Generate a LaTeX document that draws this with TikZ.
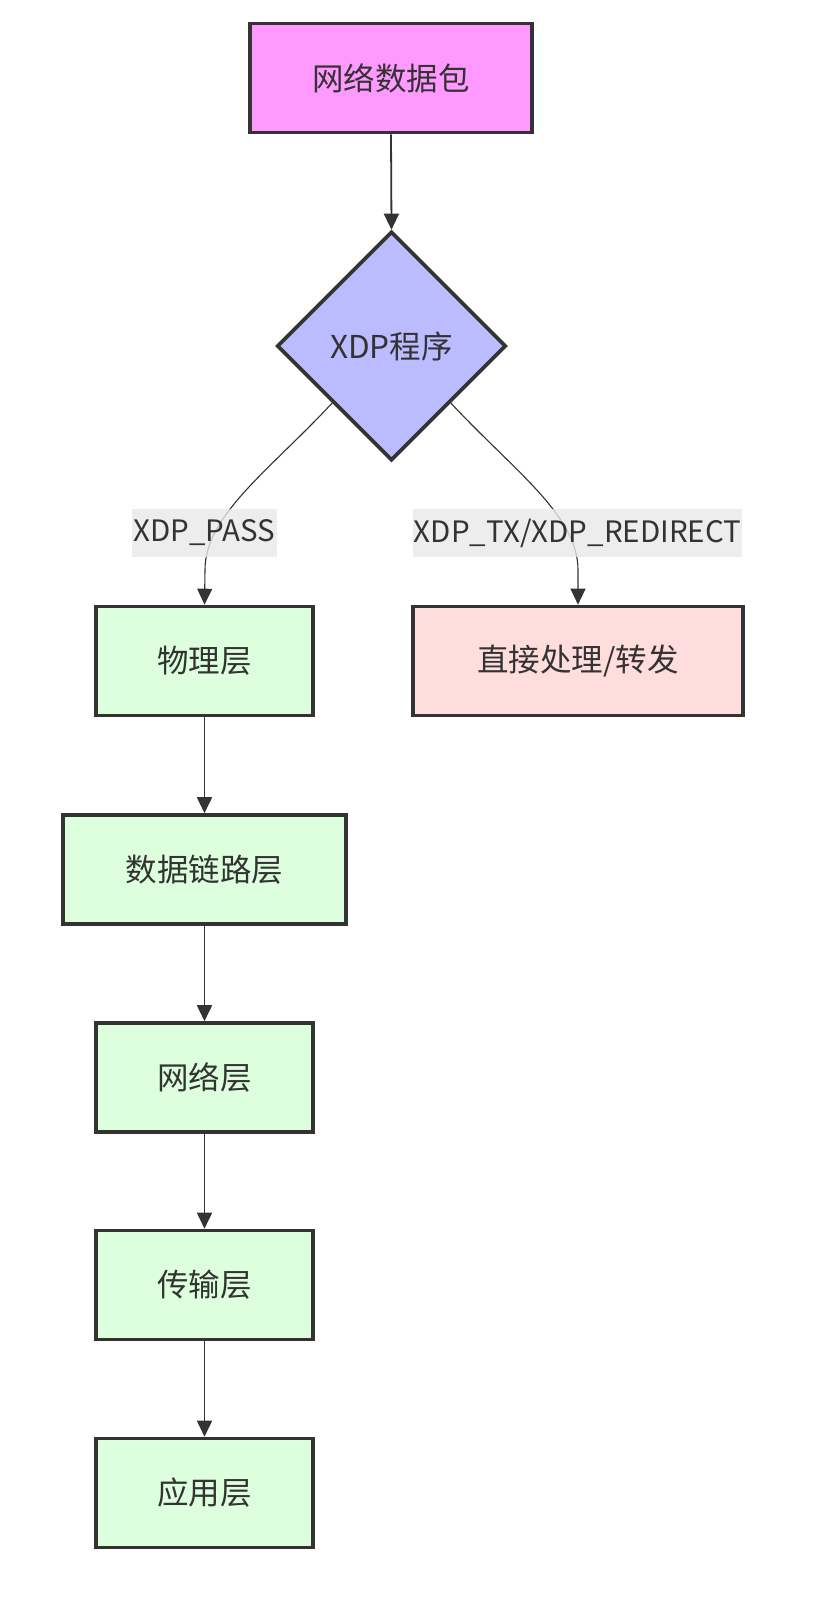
\documentclass[tikz,border=0pt]{standalone}
\usepackage{fontspec}
\setmainfont{Noto Sans CJK SC}
\usetikzlibrary{shapes.geometric,arrows.meta,calc}
\definecolor{strokec}{HTML}{333333}
\definecolor{pinkc}{HTML}{FF99FF}
\definecolor{bluec}{HTML}{BBBBFF}
\definecolor{greenc}{HTML}{DDFFDD}
\definecolor{redc}{HTML}{FFDDDD}
\definecolor{labelc}{HTML}{E8E8E8}
\tikzset{
  box/.style={draw=strokec, line width=3.6pt, rectangle, minimum height=109pt, inner sep=0pt, text=strokec, font=\fontsize{31.5}{38}\selectfont},
  dia/.style={draw=strokec, line width=3.6pt, diamond, aspect=1, minimum width=229pt, minimum height=229pt, inner sep=0pt, fill=bluec, text=strokec, font=\fontsize{31.5}{38}\selectfont},
  edge/.style={draw=strokec, line width=1.8pt, -{Triangle[length=16pt,width=15pt]}},
  thinedge/.style={draw=strokec, line width=1.1pt, -{Triangle[length=16pt,width=15pt]}},
  elabel/.style={fill=labelc, fill opacity=0.8, text opacity=1, text=strokec, inner xsep=1pt, inner ysep=0pt, minimum height=48pt, font=\fontsize{29.5}{35}\selectfont},
}
\begin{document}
\begin{tikzpicture}[x=1pt,y=-1pt]
\useasboundingbox (0,0) rectangle (836,1618);
\node[box, fill=pinkc, minimum width=282pt] (pkt) at (391,78) {网络数据包};
\node[dia] (xdp) at (391.5,346) {XDP程序};
\node[box, fill=greenc, minimum width=217pt] (phy) at (204.5,661) {物理层};
\node[box, fill=redc, minimum width=330pt] (tx) at (578,661) {直接处理/转发};
\node[box, fill=greenc, minimum width=283pt] (dl) at (204.5,869.5) {数据链路层};
\node[box, fill=greenc, minimum width=217pt] (net) at (204.5,1077.5) {网络层};
\node[box, fill=greenc, minimum width=217pt] (tp) at (204.5,1285) {传输层};
\node[box, fill=greenc, minimum width=217pt] (app) at (204.5,1493) {应用层};

\coordinate (ls) at ($(xdp.west)!0.49!(xdp.south)$);
\coordinate (rs) at ($(xdp.east)!0.49!(xdp.south)$);

\draw[edge] (pkt.south) -- (xdp.north);
\draw[thinedge] (ls) .. controls (270,470) and (205,515) .. (205,570) -- (phy.north);
\draw[thinedge] (rs) .. controls (513,470) and (578,515) .. (578,570) -- (tx.north);
\draw[edge] (phy.south) -- (dl.north);
\draw[edge] (dl.south) -- (net.north);
\draw[edge] (net.south) -- (tp.north);
\draw[edge] (tp.south) -- (app.north);

\node[elabel] (lpass) at (204.5,533) {XDP\_PASS};
\node[elabel] (ltx) at (577.5,533) {XDP\_TX/XDP\_REDIRECT};
\end{tikzpicture}
\end{document}
